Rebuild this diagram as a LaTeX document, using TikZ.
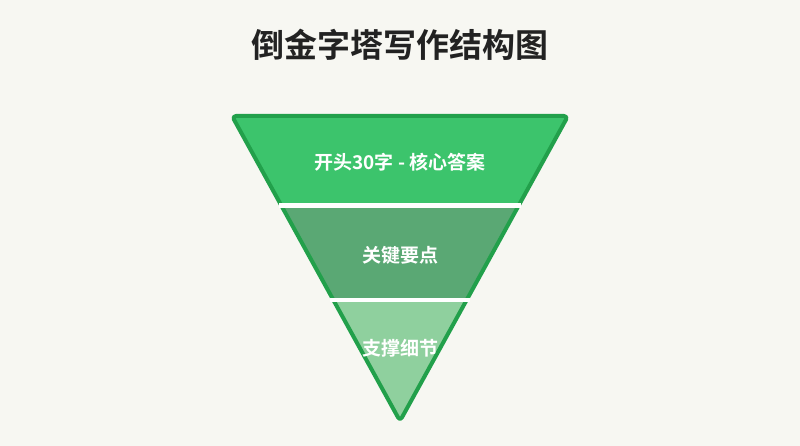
\documentclass[tikz,border=0pt]{standalone}
\usepackage{fontspec}
\newfontfamily\cjkbold{Noto Sans CJK SC Bold}
\definecolor{bgc}{HTML}{F7F7F2}
\definecolor{edgec}{HTML}{22A04B}
\definecolor{topc}{HTML}{3CC46C}
\definecolor{midc}{HTML}{5AA874}
\definecolor{lowc}{HTML}{8FD09E}
\definecolor{titlec}{HTML}{222222}
\tikzset{
  layerlabel/.style={text=white, font=\cjkbold\fontsize{19}{22}\selectfont, inner sep=0pt},
  titlelabel/.style={text=titlec, font=\cjkbold\fontsize{33}{38}\selectfont, inner sep=0pt},
  sepbar/.style={fill=white, draw=none},
  outline/.style={draw=edgec, line width=4pt, rounded corners=4pt, line join=round}
}
\begin{document}
\begin{tikzpicture}[x=1pt,y=-1pt]
\useasboundingbox (0,0) rectangle (800,446);
\fill[bgc] (0,0) rectangle (800,446);
\node[titlelabel] (title) at (400,45) {倒金字塔写作结构图};
% triangle corners
\coordinate (TL) at (232,116);
\coordinate (TR) at (568,116);
\coordinate (AP) at (400,421);
\begin{scope}
  \clip[rounded corners=4pt] (TL) -- (TR) -- (AP) -- cycle;
  \fill[topc] (200,100) rectangle (600,205.5);
  \fill[midc] (200,205.5) rectangle (600,299.7);
  \fill[lowc] (200,299.7) rectangle (600,430);
\end{scope}
\draw[outline] (TL) -- (TR) -- (AP) -- cycle;
% separators
\fill[sepbar] (279,203.3) rectangle (521,207.7);
\fill[sepbar] (330,297.6) rectangle (470,301.8);
\node[layerlabel] (l1) at (400,162) {开头30字 - 核心答案};
\node[layerlabel] (l2) at (400,255) {关键要点};
\node[layerlabel] (l3) at (400,348) {支撑细节};
\end{tikzpicture}
\end{document}
